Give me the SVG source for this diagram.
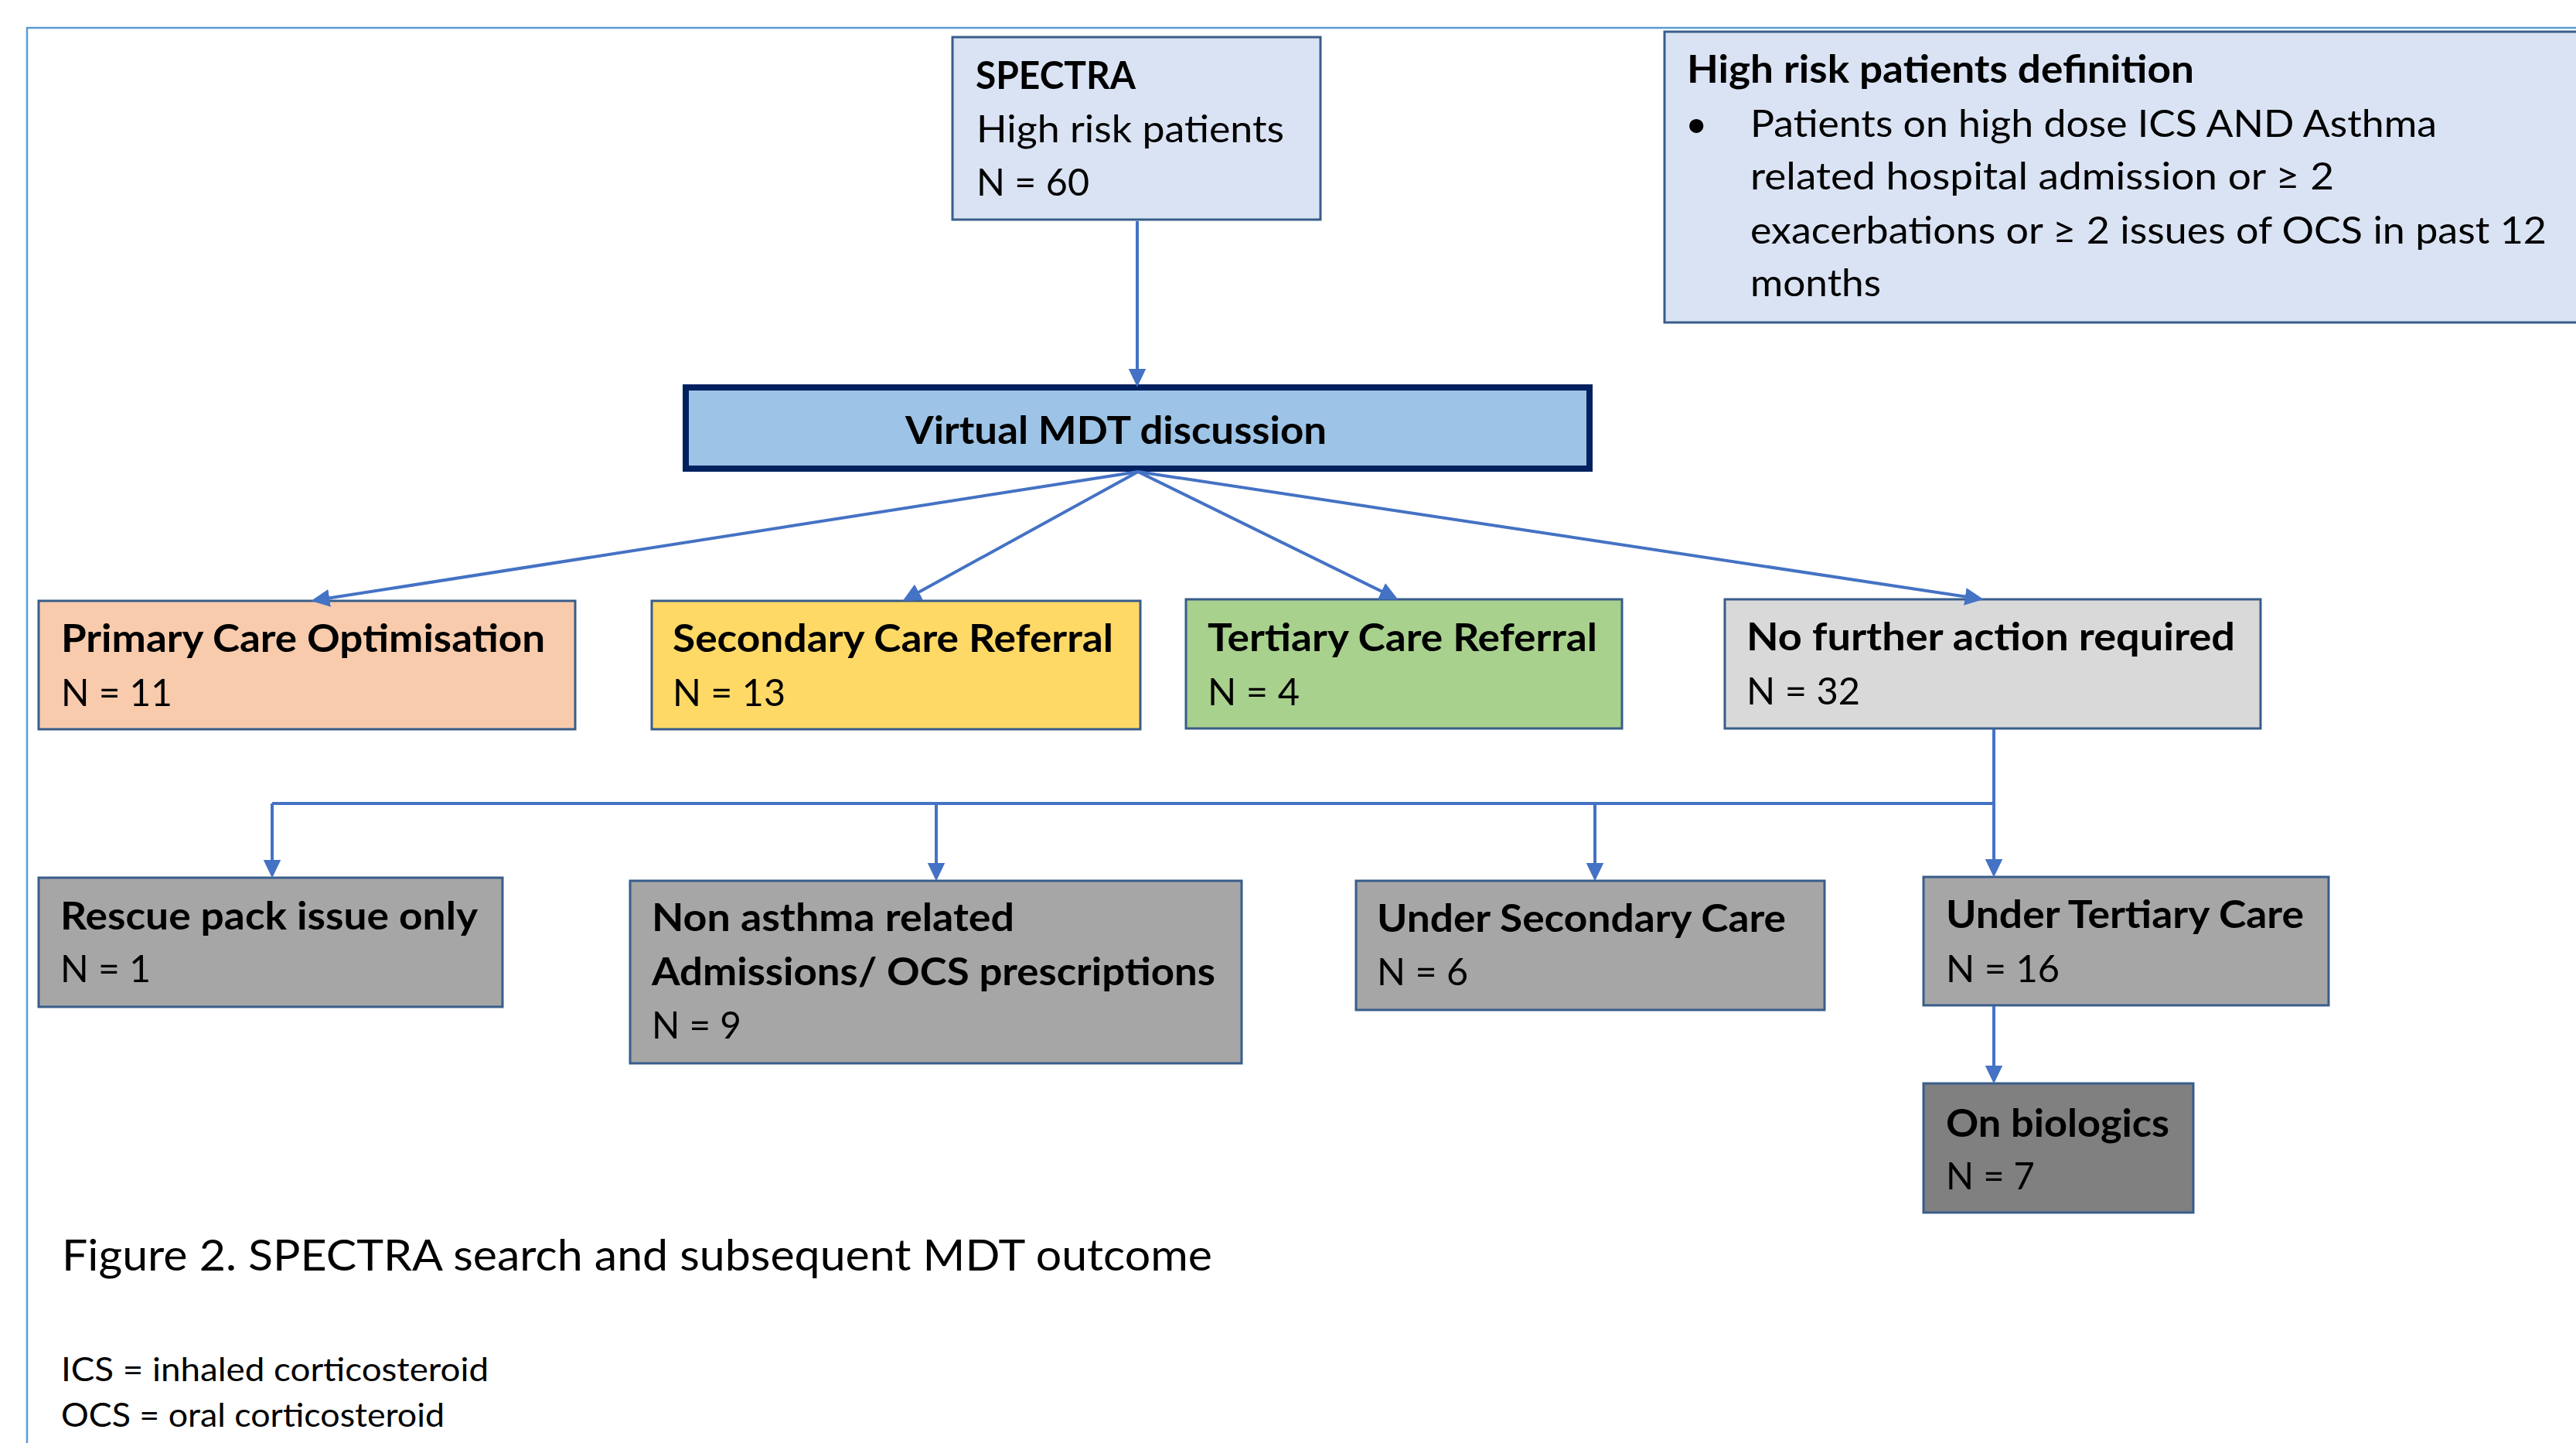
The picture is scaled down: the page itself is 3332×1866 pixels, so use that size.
<svg xmlns="http://www.w3.org/2000/svg" width="3332" height="1866" viewBox="0 0 3332 1866">
<defs>
<style>
.box{stroke:#385D8A;stroke-width:3}
.t{font-family:Lato,"Open Sans","Liberation Sans",sans-serif;font-size:49px;fill:#000}
.b{font-weight:bold}
.cap{font-family:Lato,"Open Sans","Liberation Sans",sans-serif;font-size:57px;fill:#000}
.note{font-family:Lato,"Open Sans","Liberation Sans",sans-serif;font-size:43px;fill:#000}
.conn{fill:none;stroke:#4472C4;stroke-width:4}
</style>
<marker id="arr" markerUnits="userSpaceOnUse" markerWidth="24" markerHeight="24" viewBox="0 0 22 22" refX="16" refY="11" orient="auto">
<path d="M0,0.5 L22,11 L0,21.5 z" fill="#4472C4"/>
</marker>
</defs>
<rect width="3332" height="1866" fill="#fff"/>
<path d="M35,1866 V36 H3332" fill="none" stroke="#5B9BD5" stroke-width="2.5"/>

<g id="spectra">
<rect class="box" x="1232" y="48" width="476" height="236" fill="#DAE3F3"/>
<text class="t b" x="1262" y="115" textLength="207" lengthAdjust="spacingAndGlyphs">SPECTRA</text>
<text class="t" x="1263" y="184" textLength="398" lengthAdjust="spacingAndGlyphs">High risk patients</text>
<text class="t" x="1263" y="253" textLength="146" lengthAdjust="spacingAndGlyphs">N = 60</text>
</g>

<g id="definition">
<rect class="box" x="2153" y="41" width="1250" height="376" fill="#DAE3F3"/>
<text class="t b" x="2182" y="107" textLength="656" lengthAdjust="spacingAndGlyphs">High risk patients definition</text>
<text class="t" x="2180" y="177">•</text>
<text class="t" x="2264" y="177" textLength="888" lengthAdjust="spacingAndGlyphs">Patients on high dose ICS AND Asthma</text>
<text class="t" x="2264" y="245" textLength="755" lengthAdjust="spacingAndGlyphs">related hospital admission or ≥ 2</text>
<text class="t" x="2264" y="315" textLength="1030" lengthAdjust="spacingAndGlyphs">exacerbations or ≥ 2 issues of OCS in past 12</text>
<text class="t" x="2264" y="383" textLength="169" lengthAdjust="spacingAndGlyphs">months</text>
</g>

<g id="mdt">
<rect x="887" y="501" width="1169" height="105" fill="#9DC3E6" stroke="#002060" stroke-width="8"/>
<text class="t b" x="1171" y="574" textLength="545" lengthAdjust="spacingAndGlyphs">Virtual MDT discussion</text>
</g>

<g id="primary">
<rect class="box" x="50" y="777" width="694" height="166" fill="#F8CBAD"/>
<text class="t b" x="79" y="843" textLength="626" lengthAdjust="spacingAndGlyphs">Primary Care Optimisation</text>
<text class="t" x="79" y="913" textLength="144" lengthAdjust="spacingAndGlyphs">N = 11</text>
</g>

<g id="secondary">
<rect class="box" x="843" y="777" width="632" height="166" fill="#FFD966"/>
<text class="t b" x="870" y="843" textLength="570" lengthAdjust="spacingAndGlyphs">Secondary Care Referral</text>
<text class="t" x="870" y="913" textLength="146" lengthAdjust="spacingAndGlyphs">N = 13</text>
</g>

<g id="tertiary">
<rect class="box" x="1534" y="775" width="564" height="167" fill="#A9D18E"/>
<text class="t b" x="1562" y="842" textLength="504" lengthAdjust="spacingAndGlyphs">Tertiary Care Referral</text>
<text class="t" x="1562" y="912" textLength="119" lengthAdjust="spacingAndGlyphs">N = 4</text>
</g>

<g id="nofurther">
<rect class="box" x="2231" y="775" width="693" height="167" fill="#D9D9D9"/>
<text class="t b" x="2259" y="841" textLength="632" lengthAdjust="spacingAndGlyphs">No further action required</text>
<text class="t" x="2259" y="911" textLength="147" lengthAdjust="spacingAndGlyphs">N = 32</text>
</g>

<g id="rescue">
<rect class="box" x="50" y="1135" width="600" height="167" fill="#A6A6A6"/>
<text class="t b" x="78" y="1202" textLength="540" lengthAdjust="spacingAndGlyphs">Rescue pack issue only</text>
<text class="t" x="78" y="1270" textLength="117" lengthAdjust="spacingAndGlyphs">N = 1</text>
</g>

<g id="nonasthma">
<rect class="box" x="815" y="1139" width="791" height="236" fill="#A6A6A6"/>
<text class="t b" x="843" y="1204" textLength="469" lengthAdjust="spacingAndGlyphs">Non asthma related</text>
<text class="t b" x="843" y="1274" textLength="729" lengthAdjust="spacingAndGlyphs">Admissions/ OCS prescriptions</text>
<text class="t" x="843" y="1343" textLength="116" lengthAdjust="spacingAndGlyphs">N = 9</text>
</g>

<g id="undersecondary">
<rect class="box" x="1754" y="1139" width="606" height="167" fill="#A6A6A6"/>
<text class="t b" x="1781" y="1205" textLength="529" lengthAdjust="spacingAndGlyphs">Under Secondary Care</text>
<text class="t" x="1781" y="1274" textLength="118" lengthAdjust="spacingAndGlyphs">N = 6</text>
</g>

<g id="undertertiary">
<rect class="box" x="2488" y="1134" width="524" height="166" fill="#A6A6A6"/>
<text class="t b" x="2517" y="1200" textLength="463" lengthAdjust="spacingAndGlyphs">Under Tertiary Care</text>
<text class="t" x="2517" y="1270" textLength="147" lengthAdjust="spacingAndGlyphs">N = 16</text>
</g>

<g id="biologics">
<rect class="box" x="2488" y="1401" width="349" height="167" fill="#808080"/>
<text class="t b" x="2517" y="1470" textLength="289" lengthAdjust="spacingAndGlyphs">On biologics</text>
<text class="t" x="2517" y="1538" textLength="115" lengthAdjust="spacingAndGlyphs">N = 7</text>
</g>

<g id="connectors">
<path class="conn" marker-end="url(#arr)" d="M1471,286 V494"/>
<path class="conn" marker-end="url(#arr)" d="M1472,610 L408.9,776.1"/>
<path class="conn" marker-end="url(#arr)" d="M1472,610 L1173.2,774.1"/>
<path class="conn" marker-end="url(#arr)" d="M1472,610 L1802.6,772.3"/>
<path class="conn" marker-end="url(#arr)" d="M1472,610 L2559.1,774.1"/>
<path class="conn" d="M2579,943 V1039 H352"/>
<path class="conn" marker-end="url(#arr)" d="M2579,1039 V1128"/>
<path class="conn" marker-end="url(#arr)" d="M352,1039 V1129"/>
<path class="conn" marker-end="url(#arr)" d="M1211,1039 V1133"/>
<path class="conn" marker-end="url(#arr)" d="M2063,1039 V1133"/>
<path class="conn" marker-end="url(#arr)" d="M2579,1301 V1395"/>
</g>

<g id="caption">
<text class="cap" x="80" y="1643" textLength="1488" lengthAdjust="spacingAndGlyphs">Figure 2. SPECTRA search and subsequent MDT outcome</text>
<text class="note" x="79" y="1786" textLength="553" lengthAdjust="spacingAndGlyphs">ICS = inhaled corticosteroid</text>
<text class="note" x="79" y="1845" textLength="496" lengthAdjust="spacingAndGlyphs">OCS = oral corticosteroid</text>
</g>
</svg>
